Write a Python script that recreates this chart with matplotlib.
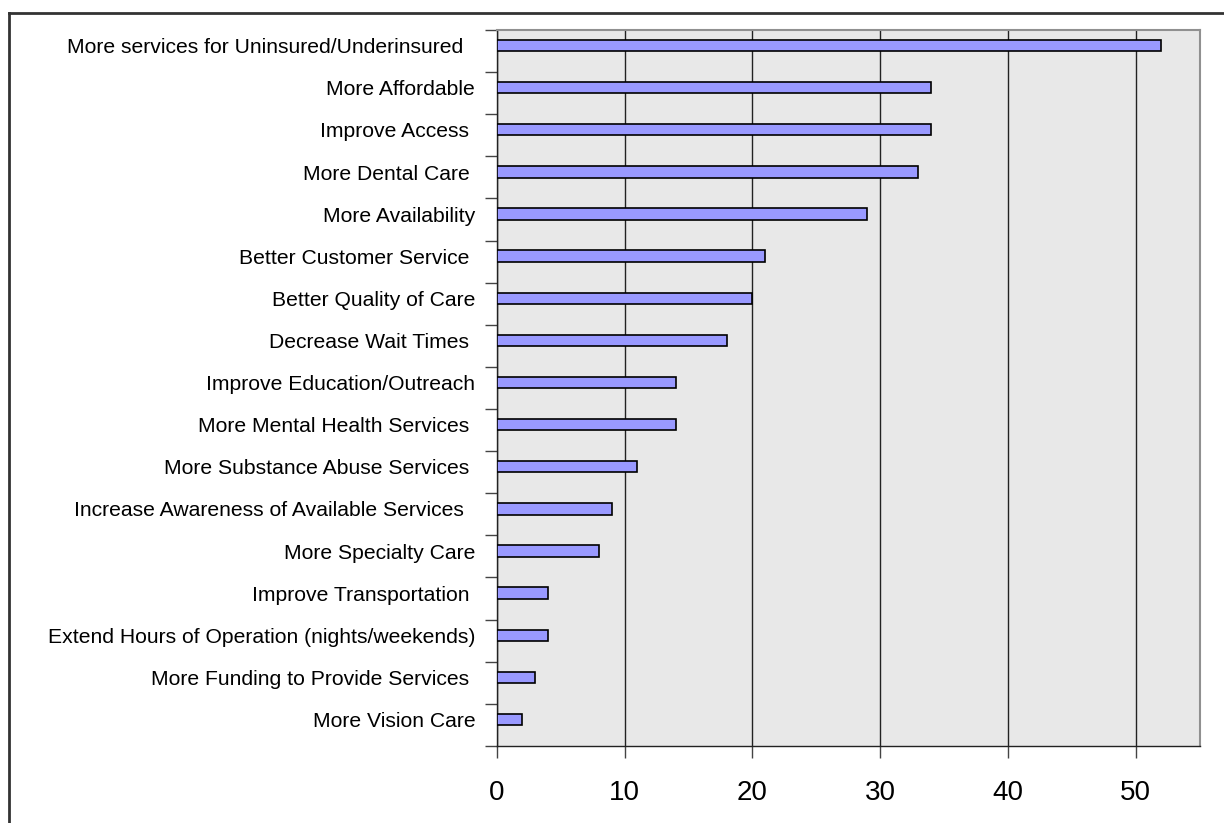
import matplotlib
matplotlib.use("Agg")
import matplotlib.pyplot as plt
from matplotlib.lines import Line2D
import numpy as np

# suggestions, top to bottom as in the chart (trailing spaces as in the source)
categories = [
    "More services for Uninsured/Underinsured  ",
    "More Affordable",
    "Improve Access ",
    "More Dental Care ",
    "More Availability",
    "Better Customer Service ",
    "Better Quality of Care",
    "Decrease Wait Times ",
    "Improve Education/Outreach",
    "More Mental Health Services ",
    "More Substance Abuse Services ",
    "Increase Awareness of Available Services  ",
    "More Specialty Care",
    "Improve Transportation ",
    "Extend Hours of Operation (nights/weekends)",
    "More Funding to Provide Services ",
    "More Vision Care",
]
counts = [52, 34, 34, 33, 29, 21, 20, 18, 14, 14, 11, 9, 8, 4, 4, 3, 2]
xticks = [0, 10, 20, 30, 40, 50]

plt.rcParams["font.family"] = ["Liberation Sans", "DejaVu Sans"]

fig = plt.figure(figsize=(12.24, 8.23), dpi=100)
ax = fig.add_axes([0.406, 0.0936, 0.574, 0.87])

n = len(categories)
pos = np.arange(n)[::-1]  # first category at top
ax.barh(pos + 0.13, counts, height=0.27, color="#9999FF",
        edgecolor="black", linewidth=1.2, zorder=3)

ax.set_facecolor("#E8E8E8")
ax.set_xlim(0, 55)
ax.set_ylim(-0.5, n - 0.5)

# ticks sit between categories, labels drawn as text next to the bars
ax.set_yticks(np.arange(n + 1) - 0.5)
ax.set_yticklabels([])
for p, lab in zip(pos, categories):
    ax.text(-1.7, p + 0.08, lab, ha="right", va="center", fontsize=15.2)

ax.set_xticks(xticks)
ax.set_xticklabels([str(t) for t in xticks], fontsize=20)
ax.tick_params(axis="both", direction="out", length=8.5, width=1, color="#444444")
ax.tick_params(axis="x", pad=16)
ax.xaxis.grid(True, color="#222222", linewidth=1)
ax.set_axisbelow(True)

for side in ["left", "bottom"]:
    ax.spines[side].set_color("#222222")
    ax.spines[side].set_linewidth(1)
for side in ["top", "right"]:
    ax.spines[side].set_color("#909090")
    ax.spines[side].set_linewidth(1.5)

# outer frame (top and left edges visible)
fig.add_artist(Line2D([0.0074, 0.999], [0.984, 0.984], color="#333333", linewidth=2))
fig.add_artist(Line2D([0.0074, 0.0074], [0.984, 0.0], color="#333333", linewidth=2))

fig.savefig("out.png", dpi=100)
